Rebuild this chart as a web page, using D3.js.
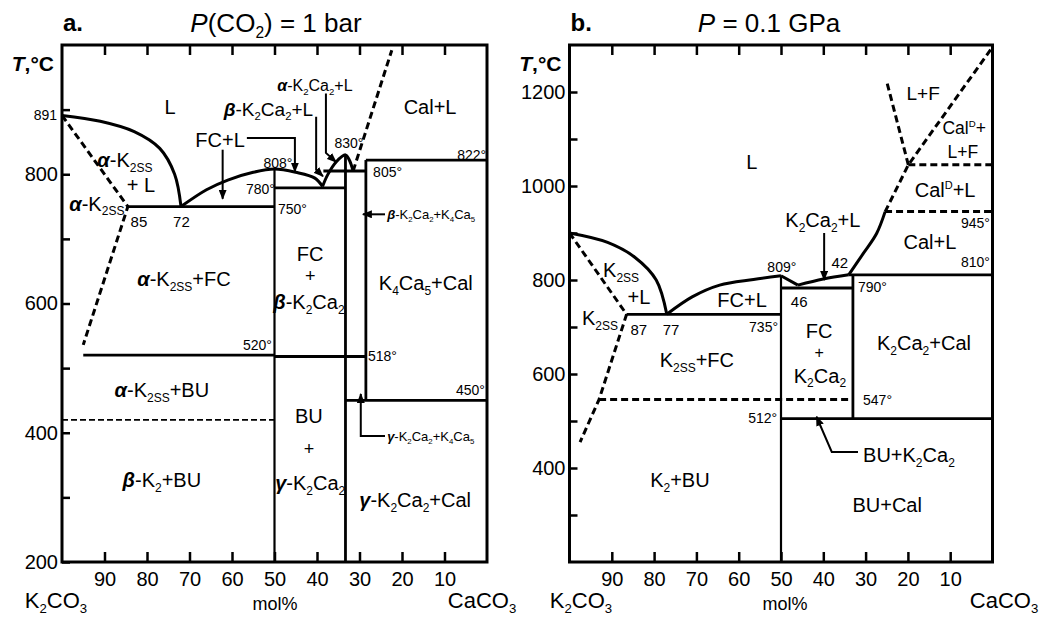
<!DOCTYPE html>
<html>
<head>
<meta charset="utf-8">
<script src="https://cdn.jsdelivr.net/npm/d3@7"></script>
<style>
  body { margin: 0; background: #fff; }
  svg { display: block; font-family: "Liberation Sans", Arial, sans-serif; }
</style>
</head>
<body>
<svg id="chart" width="1052" height="620"></svg>
<script>
// ---------- panel a: P(CO2) = 1 bar ----------
// curves are [mol% K2CO3, T °C]
const aLiqK2 = [[100, 891], [91, 882], [83, 866], [77, 840], [73.5, 800], [72, 750]];
const aLiqFC = [[72, 750], [66, 776], [61, 791], [55, 803], [50, 808], [45, 803], [40.5, 794], [38.7, 781]];
const aLiqK2Ca2 = [[38.7, 781], [37.5, 799], [35.5, 819], [33.3, 830], [32.4, 822], [31.5, 805]];
const aCalDash = [[31.5, 805], [22.4, 992]];
const aSolvus = [[100, 891], [84.5, 750], [95, 536]];
// horizontal lines [x from, x to, T], vertical lines [x, T from, T to]
const aHoriz = [[84.5, 50, 750], [50, 33.3, 779], [38.5, 28.5, 805], [28.5, 0, 822], [95, 50, 520], [50, 28.5, 518], [33.3, 0, 450]];
const aVert = [[50, 808, 200], [33.3, 830, 200], [28.5, 822, 450]];
const aDashH = [[100, 50, 420]];
const aTicksX = [90, 80, 70, 60, 50, 40, 30, 20, 10];
const aTicksY = [200, 300, 400, 500, 600, 700, 800, 900];
const aTickLabelsY = [200, 400, 600, 800];

// labels: [text, x, T, anchor, size]
const aLabels = [
  ["L", 74.6, 904], ["Cal+L", 13.4, 904],
  ["*α*-K_{2SS}", 85.2, 822], ["+ L", 81.4, 783], ["*α*-K_{2SS}", 91.8, 755],
  ["*α*-K_{2SS}+FC", 71.3, 638],
  ["FC", 41.6, 677], ["+", 41.6, 643, "middle", 18], ["*β*-K_{2}Ca_{2}", 41.9, 602],
  ["K_{4}Ca_{5}+Cal", 14.4, 632],
  ["*α*-K_{2SS}+BU", 76.5, 466], ["*β*-K_{2}+BU", 76.5, 327],
  ["BU", 41.9, 426], ["+", 41.9, 376, "middle", 18], ["*γ*-K_{2}Ca_{2}", 41.6, 322],
  ["*γ*-K_{2}Ca_{2}+Cal", 16.9, 296],
  ["FC+L", 62.8, 853],
  ["*β*-K_{2}Ca_{2}+L", 40.9, 901, "end", 19],
  ["*α*-K_{2}Ca_{2}+L", 40.5, 937, "middle", 16],
  ["808°", 49.2, 817, "middle", 14], ["780°", 49.9, 777, "end", 14], ["750°", 49.2, 746, "start", 14],
  ["830°", 32.5, 848, "middle", 14], ["805°", 26.8, 803, "start", 14], ["822°", 0.2, 830, "end", 14],
  ["520°", 50.6, 536, "end", 14], ["518°", 28, 519, "start", 14], ["450°", 0.5, 466, "end", 14],
  ["85", 81.9, 726, "middle", 15], ["72", 71.9, 726, "middle", 15],
  ["*β*-K_{2}Ca_{2}+K_{4}Ca_{5}", 23.5, 738, "start", 13],
  ["*γ*-K_{2}Ca_{2}+K_{4}Ca_{5}", 23.5, 395, "start", 13]
];
const aArrows = [
  [[56.5, 856], [45.2, 856], [45.2, 804]],
  [[62.2, 838], [62.2, 762]],
  [[40.2, 889], [40.2, 807], [38.6, 797]],
  [[37.9, 925], [37.9, 833], [35.5, 819]],
  [[24, 738], [29.2, 738]],
  [[24, 395], [29.7, 395], [29.7, 460]]
];

// ---------- panel b: P = 0.1 GPa ----------
const bLiqK2 = [[100, 900], [91, 880], [84.5, 848], [79.5, 800], [77, 727]];
const bLiqFC = [[77, 727], [71, 764], [64.5, 789], [56.5, 801], [50, 809]];
const bFCdrop = [[50, 809], [46, 789]];
const bLiqK2Ca2 = [[46, 789], [40, 802], [34, 811]];
const bLiqCal = [[34, 811], [30.5, 857], [27.4, 899], [25.4, 945]];
const bCalDash = [[25.4, 945], [19.9, 1045], [0.2, 1293]];
const bLFDash = [[19.9, 1045], [25, 1222]];
const bSolvus = [[100, 900], [86.5, 727], [93, 546], [97.5, 455]];
const bHoriz = [[86.5, 50, 727], [50, 33, 783], [34, 0, 811], [50, 0, 505]];
const bVert = [[50, 809, 200], [33, 811, 505]];
const bDashH = [[93, 33, 546], [25.4, 0, 946], [19.9, 0, 1045]];
const bTicksX = [90, 80, 70, 60, 50, 40, 30, 20, 10];
const bTicksY = [300, 400, 500, 600, 700, 800, 900, 1000, 1100, 1200];
const bTickLabelsY = [400, 600, 800, 1000, 1200];

const bLabels = [
  ["L", 56.9, 1051], ["L+F", 16.4, 1198, "middle", 19],
  ["Cal^{D}+", 6.7, 1123, "middle", 17.5], ["L+F", 7, 1072, "middle", 17.5],
  ["Cal^{D}+L", 11.2, 991], ["Cal+L", 14.8, 881],
  ["K_{2}Ca_{2}+L", 40.1, 928],
  ["K_{2SS}", 87.8, 821], ["+L", 83.6, 764], ["K_{2SS}", 92.8, 719],
  ["FC+L", 59.2, 757],
  ["FC", 41, 692], ["+", 41, 647, "middle", 16], ["K_{2}Ca_{2}", 40.8, 597],
  ["K_{2SS}+FC", 69.9, 630], ["K_{2}Ca_{2}+Cal", 16.2, 666],
  ["BU+K_{2}Ca_{2}", 30.6, 428, "start"],
  ["K_{2}+BU", 73.9, 374], ["BU+Cal", 24.9, 321],
  ["945°", 0.6, 921, "end", 14], ["810°", 0.6, 838, "end", 14], ["809°", 49.8, 828, "middle", 14],
  ["735°", 50.7, 700, "end", 14], ["790°", 31.8, 785, "start", 14],
  ["547°", 30.6, 545, "start", 14], ["512°", 50.9, 506, "end", 14],
  ["42", 36.1, 838, "middle", 15], ["46", 45.7, 753, "middle", 15],
  ["87", 83.6, 694, "middle", 15], ["77", 76, 694, "middle", 15]
];
const bArrows = [
  [[39.8, 900], [39.8, 800]],
  [[31.8, 434], [38, 434], [41.6, 509]]
];

// ---------- drawing ----------
const svg = d3.select("#chart");
svg.append("rect").attr("width", 1052).attr("height", 620).attr("fill", "#fff");

svg.append("defs").append("marker")
  .attr("id", "arrow")
  .attr("viewBox", "0 0 10 8")
  .attr("refX", 9).attr("refY", 4)
  .attr("markerWidth", 10).attr("markerHeight", 8)
  .attr("markerUnits", "userSpaceOnUse")
  .attr("orient", "auto")
  .append("path").attr("d", "M0,0L10,4L0,8z").attr("fill", "#000");

// tiny markup: _{sub} ^{sup} *bold italic* ~italic~
function rich(text, str, size) {
  const parts = str.split(/(_\{[^}]*\}|\^\{[^}]*\}|\*[^*]*\*|~[^~]*~)/g).filter(s => s.length);
  let shift = 0;
  parts.forEach(p => {
    const t = text.append("tspan");
    let target = 0, txt = p;
    if (p.startsWith("_{")) {
      txt = p.slice(2, -1); target = size * 0.24; t.attr("font-size", size * 0.6);
    } else if (p.startsWith("^{")) {
      txt = p.slice(2, -1); target = -size * 0.4; t.attr("font-size", size * 0.55);
    } else if (p.startsWith("*")) {
      txt = p.slice(1, -1); t.attr("font-weight", "bold").attr("font-style", "italic");
    } else if (p.startsWith("~")) {
      txt = p.slice(1, -1); t.attr("font-style", "italic");
    }
    if (target !== shift) { t.attr("dy", target - shift); shift = target; }
    t.text(txt);
  });
}

function drawPanel(p) {
  const g = svg.append("g");
  const x = d3.scaleLinear().domain([100, 0]).range([p.left, p.right]);
  const y = d3.scaleLinear().domain([p.tMin, p.tMax]).range([p.bottom, p.top]);
  const smooth = d3.line().x(d => x(d[0])).y(d => y(d[1])).curve(d3.curveCatmullRom.alpha(0.5));
  const straight = d3.line().x(d => x(d[0])).y(d => y(d[1]));

  // axes (ticks inside the frame)
  const styleAxis = a => {
    a.select(".domain").remove();
    a.attr("font-family", null).attr("font-size", 20);
    a.selectAll("line").attr("stroke", "#000").attr("stroke-width", 2.5);
    a.selectAll("text").attr("fill", "#000");
  };
  g.append("g").attr("transform", `translate(0,${p.bottom})`)
    .call(d3.axisBottom(x).tickValues(p.ticksX).tickSize(-10).tickPadding(10))
    .call(styleAxis);
  g.append("g").attr("transform", `translate(0,${p.top})`)
    .call(d3.axisTop(x).tickValues(p.ticksX).tickSize(-10).tickFormat(""))
    .call(styleAxis);
  g.append("g").attr("transform", `translate(${p.left},0)`)
    .call(d3.axisLeft(y).tickValues(p.ticksY).tickSize(-8).tickPadding(4)
      .tickFormat(d => p.labelsY.includes(d) ? d : ""))
    .call(styleAxis);

  // phase boundaries
  const solid = (d, w, c) => g.append("path").attr("d", (c || straight)(d))
    .attr("fill", "none").attr("stroke", "#000").attr("stroke-width", w || 2.8);
  const dashed = (d, w, dash, c) => g.append("path").attr("d", (c || straight)(d))
    .attr("fill", "none").attr("stroke", "#000").attr("stroke-width", w || 3)
    .attr("stroke-dasharray", dash || "7,4");

  p.curves.forEach(c => solid(c, 3, smooth));
  p.straightCurves.forEach(c => solid(c, 3));
  p.dashCurves.forEach(c => dashed(c));
  p.horiz.forEach(h => solid([[h[0], h[2]], [h[1], h[2]]]));
  p.vert.forEach(v => solid([[v[0], v[1]], [v[0], v[2]]], v[0] === 50 ? 2.2 : 2.8));
  p.dashH.forEach(h => dashed([[h[0], h[2]], [h[1], h[2]]], p.thinDash ? 1.8 : 3, p.thinDash ? "6,3" : "7,4"));

  // arrows
  p.arrows.forEach(a => g.append("path").attr("d", straight(a))
    .attr("fill", "none").attr("stroke", "#000").attr("stroke-width", 2)
    .attr("marker-end", "url(#arrow)"));

  // labels
  p.labels.forEach(l => {
    const size = l[4] || 20;
    const t = g.append("text")
      .attr("x", x(l[1])).attr("y", y(l[2]) + size * 0.36)
      .attr("font-size", size).attr("text-anchor", l[3] || "middle");
    rich(t, l[0], size);
  });

  // frame
  g.append("rect").attr("x", p.left).attr("y", p.top)
    .attr("width", p.right - p.left).attr("height", p.bottom - p.top)
    .attr("fill", "none").attr("stroke", "#000").attr("stroke-width", 3);

  // titles and captions
  g.append("text").attr("x", p.left + 1).attr("y", 31).attr("font-size", 24)
    .attr("font-weight", "bold").text(p.letter);
  rich(g.append("text").attr("x", p.titleX).attr("y", 32).attr("font-size", 26)
    .attr("text-anchor", "middle"), p.title, 26);
  rich(g.append("text").attr("x", p.left - 8).attr("y", 71).attr("font-size", 21)
    .attr("font-weight", "bold").attr("text-anchor", "end"), "~T~,°C", 21);
  rich(g.append("text").attr("x", p.capLeft).attr("y", 608).attr("font-size", 22)
    .attr("text-anchor", "middle"), "K_{2}CO_{3}", 22);
  g.append("text").attr("x", p.capMid).attr("y", 610).attr("font-size", 18)
    .attr("text-anchor", "middle").text("mol%");
  rich(g.append("text").attr("x", p.capRight).attr("y", 608).attr("font-size", 22)
    .attr("text-anchor", "middle"), "CaCO_{3}", 22);
  if (p.extraY) {
    g.append("text").attr("x", p.left - 5).attr("y", y(p.extraY) + 5)
      .attr("font-size", 14).attr("text-anchor", "end").text(p.extraY);
  }
}

drawPanel({
  left: 62, right: 487, top: 45, bottom: 562, tMin: 200, tMax: 1000,
  ticksX: aTicksX, ticksY: aTicksY, labelsY: aTickLabelsY,
  curves: [aLiqK2, aLiqFC, aLiqK2Ca2], straightCurves: [],
  dashCurves: [aCalDash, aSolvus],
  horiz: aHoriz, vert: aVert, dashH: aDashH, thinDash: true,
  arrows: aArrows, labels: aLabels,
  letter: "a.", title: "~P~(CO_{2}) = 1 bar", titleX: 276, extraY: 891,
  capLeft: 56, capMid: 275, capRight: 482
});

drawPanel({
  left: 569.5, right: 992.5, top: 45, bottom: 562, tMin: 200, tMax: 1300,
  ticksX: bTicksX, ticksY: bTicksY, labelsY: bTickLabelsY,
  curves: [bLiqK2, bLiqFC, bLiqK2Ca2, bLiqCal], straightCurves: [bFCdrop],
  dashCurves: [bCalDash, bLFDash, bSolvus],
  horiz: bHoriz, vert: bVert, dashH: bDashH, thinDash: false,
  arrows: bArrows, labels: bLabels,
  letter: "b.", title: "~P~ = 0.1 GPa", titleX: 769,
  capLeft: 581, capMid: 785, capRight: 1004
});
</script>
</body>
</html>
